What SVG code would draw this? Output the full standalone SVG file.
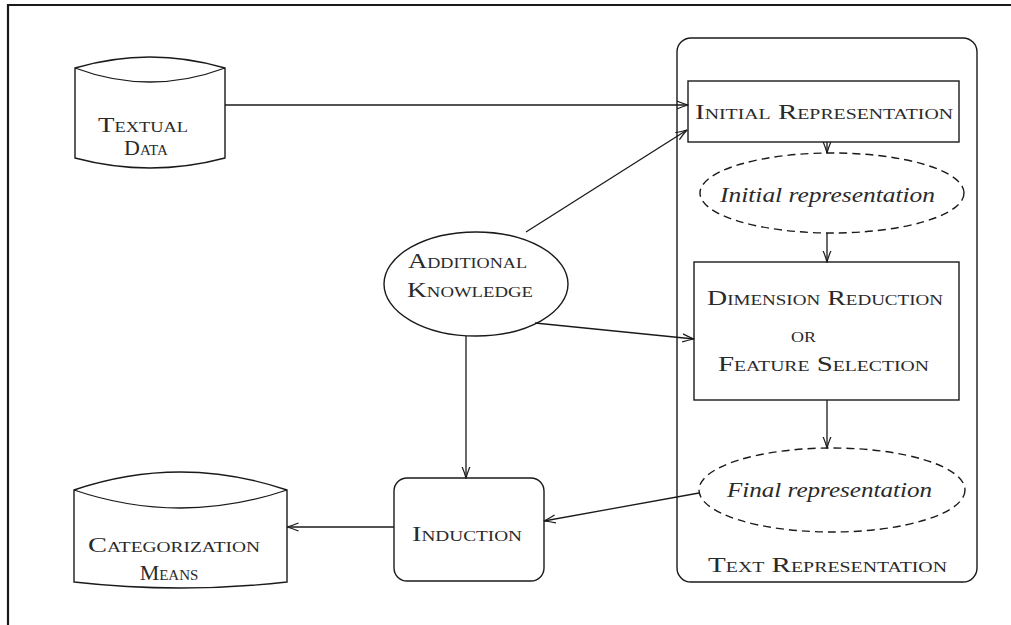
<svg xmlns="http://www.w3.org/2000/svg" width="1011" height="625" viewBox="0 0 1011 625">
  <style>
    .ln { fill: none; stroke: #1a1a1a; stroke-width: 1.3; }
    .box { fill: #fff; stroke: #1a1a1a; stroke-width: 1.4; }
    .dash { fill: #fff; stroke: #1a1a1a; stroke-width: 1.4; stroke-dasharray: 8 5; }
    .sc { font-family: "Liberation Serif", serif; font-size: 22px; font-variant: small-caps; fill: #2a2a2a; text-anchor: start; }
    .mid { text-anchor: middle; }
    .it { font-family: "Liberation Serif", serif; font-size: 21px; font-style: italic; fill: #2a2a2a; text-anchor: start; }
    .arr { marker-end: url(#head); }
  </style>
  <defs>
    <marker id="head" viewBox="0 0 12 10" refX="11.5" refY="5" markerWidth="12" markerHeight="10" markerUnits="userSpaceOnUse" orient="auto">
      <path d="M0,1 Q6,3.5 11.5,5 Q6,6.5 0,9" fill="none" stroke="#1a1a1a" stroke-width="1.2"/>
    </marker>
  </defs>

  <rect width="1011" height="625" fill="#fff"/>
  <!-- outer frame (open to the right and bottom) -->
  <path d="M8,625 L8,5 L1011,5" fill="none" stroke="#1a1a1a" stroke-width="2.2"/>

  <!-- Text Representation container -->
  <g id="text-representation">
    <rect class="box" x="677" y="38" width="300" height="544" rx="14"/>
    <text class="sc" x="708" y="572" textLength="239" lengthAdjust="spacingAndGlyphs">Text Representation</text>
  </g>

  <g id="textual-data">
    <path class="box" d="M75,68 Q150,46 225,68 L225,158 Q150,178 75,158 Z"/>
    <path class="ln" d="M75,68 Q150,96 225,68"/>
    <text class="sc" x="98" y="132" font-size="21" textLength="90" lengthAdjust="spacingAndGlyphs">Textual</text>
    <text class="sc mid" x="146" y="155" font-size="21">Data</text>
  </g>

  <g id="categorization-means">
    <path class="box" d="M74,490 Q180,454 287,490 L287,582 Q180,594 74,582 Z"/>
    <path class="ln" d="M74,490 Q180,526 287,490"/>
    <text class="sc" x="88" y="552" textLength="172" lengthAdjust="spacingAndGlyphs">Categorization</text>
    <text class="sc mid" x="169" y="580">Means</text>
  </g>

  <g id="additional-knowledge">
    <ellipse class="box" cx="476" cy="284" rx="92" ry="52"/>
    <text class="sc" x="408" y="268" textLength="119" lengthAdjust="spacingAndGlyphs">Additional</text>
    <text class="sc" x="407" y="297" textLength="126" lengthAdjust="spacingAndGlyphs">Knowledge</text>
  </g>

  <g id="induction">
    <rect class="box" x="394" y="478" width="150" height="103" rx="13"/>
    <text class="sc" x="412" y="541" textLength="110" lengthAdjust="spacingAndGlyphs">Induction</text>
  </g>

  <g id="initial-representation-step">
    <rect class="box" x="688" y="81" width="271" height="61"/>
    <text class="sc" x="695" y="119" textLength="258" lengthAdjust="spacingAndGlyphs">Initial Representation</text>
  </g>

  <g id="initial-representation">
    <ellipse class="dash" cx="832" cy="193" rx="132" ry="40"/>
    <text class="it" x="720" y="202" textLength="215" lengthAdjust="spacingAndGlyphs">Initial representation</text>
  </g>

  <g id="dimension-reduction">
    <rect class="box" x="694" y="262" width="265" height="138"/>
    <text class="sc" x="707" y="305" textLength="236" lengthAdjust="spacingAndGlyphs">Dimension Reduction</text>
    <text class="sc" x="791" y="342" textLength="25" lengthAdjust="spacingAndGlyphs">or</text>
    <text class="sc" x="718" y="371" textLength="211" lengthAdjust="spacingAndGlyphs">Feature Selection</text>
  </g>

  <g id="final-representation">
    <ellipse class="dash" cx="832" cy="490" rx="133" ry="42"/>
    <text class="it" x="727" y="497" textLength="205" lengthAdjust="spacingAndGlyphs">Final representation</text>
  </g>

  <!-- connectors -->
  <g id="connectors">
    <line class="ln arr" x1="225" y1="105" x2="688" y2="105"/>
    <line class="ln arr" x1="526" y1="232" x2="687" y2="130"/>
    <line class="ln arr" x1="535" y1="323" x2="694" y2="339"/>
    <line class="ln arr" x1="466" y1="336" x2="466" y2="478"/>
    <line class="ln arr" x1="827" y1="142" x2="827" y2="153"/>
    <line class="ln arr" x1="827" y1="233" x2="827" y2="262"/>
    <line class="ln arr" x1="827" y1="400" x2="827" y2="448"/>
    <line class="ln arr" x1="699" y1="493" x2="544" y2="521"/>
    <line class="ln arr" x1="394" y1="527" x2="287" y2="527"/>
  </g>
</svg>
